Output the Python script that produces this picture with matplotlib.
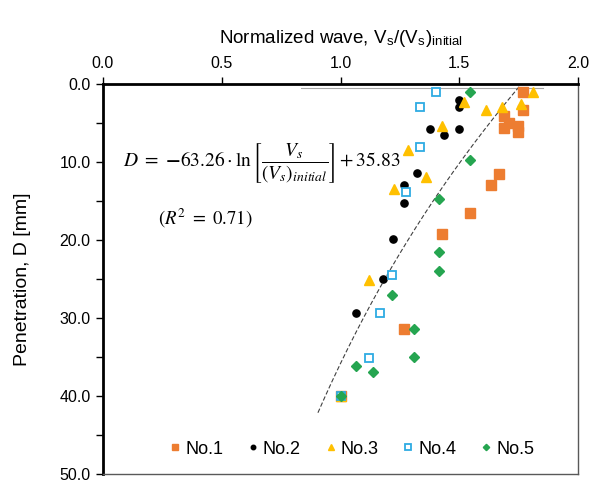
import numpy as np
import matplotlib
matplotlib.use("Agg")
import matplotlib.pyplot as plt

plt.rcParams['font.family'] = ['Liberation Sans', 'DejaVu Sans']
plt.rcParams['mathtext.fontset'] = 'stix'

# ---- data ----
no1_x = [1.768, 1.768, 1.688, 1.709, 1.688, 1.747, 1.747, 1.667, 1.634, 1.545, 1.427, 1.267, 1.0]
no1_y = [1.0, 3.3, 4.1, 5.0, 5.6, 5.4, 6.2, 11.5, 13.0, 16.5, 19.2, 31.4, 40.0]

no2_x = [1.499, 1.499, 1.377, 1.436, 1.499, 1.322, 1.269, 1.269, 1.222, 1.179, 1.065, 1.0]
no2_y = [2.05, 3.0, 5.8, 6.6, 5.8, 11.4, 13.0, 15.2, 19.9, 25.0, 29.4, 40.0]

no3_x = [1.520, 1.611, 1.681, 1.760, 1.809, 1.429, 1.285, 1.359, 1.227, 1.119, 1.0]
no3_y = [2.35, 3.3, 3.0, 2.5, 1.06, 5.35, 8.4, 11.9, 13.5, 25.1, 40.0]

no4_x = [1.401, 1.335, 1.335, 1.275, 1.217, 1.168, 1.121, 1.0]
no4_y = [0.99, 2.99, 8.04, 13.8, 24.5, 29.3, 35.1, 40.0]

no5_x = [1.545, 1.545, 1.416, 1.415, 1.415, 1.216, 1.308, 1.308, 1.065, 1.136, 1.0]
no5_y = [0.99, 9.74, 14.8, 21.5, 24.0, 27.1, 31.4, 35.0, 36.1, 36.9, 40.0]

fit_a = -63.26
fit_b = 35.83
fit_xmin, fit_xmax = 0.905, 1.752

x_ticks = [0.0, 0.5, 1.0, 1.5, 2.0]
y_ticks = [0.0, 10.0, 20.0, 30.0, 40.0, 50.0]

# ---- figure ----
fig = plt.figure(figsize=(6.02, 4.83), dpi=100)
ax = fig.add_axes([103/602, 1-474/483, (578-103)/602, (474-84)/483])

ax.set_xlim(0, 2.0)
ax.set_ylim(50, 0)

# thin grey line at top
ax.plot([0.834, 1.853], [0.45, 0.45], color='#a6a6a6', lw=0.8, zorder=1)

# trendline
xf = np.linspace(fit_xmin, fit_xmax, 200)
ax.plot(xf, fit_a*np.log(xf) + fit_b, ls=(0, (4, 2)), color='#404040', lw=0.8, zorder=2)

ax.plot(no1_x, no1_y, ls='none', marker='s', ms=6.5, mfc='#ED7D31', mec='#ED7D31', label='No.1', zorder=3)
ax.plot(no2_x, no2_y, ls='none', marker='o', ms=5.2, mfc='black', mec='black', label='No.2', zorder=3)
ax.plot(no3_x, no3_y, ls='none', marker='^', ms=7, mfc='#FFC000', mec='#FFC000', label='No.3', zorder=3)
ax.plot(no4_x, no4_y, ls='none', marker='s', ms=6.3, mfc='white', mec='#2EABE3', mew=1.3, label='No.4', zorder=3)
ax.plot(no5_x, no5_y, ls='none', marker='D', ms=5.2, mfc='#25A550', mec='#25A550', label='No.5', zorder=3)

# axes styling
ax.xaxis.tick_top()
ax.xaxis.set_label_position('top')
ax.set_xticks(x_ticks)
ax.set_xticklabels([f'{v:.1f}' for v in x_ticks], fontsize=11.5)
ax.set_yticks(y_ticks)
ax.set_yticklabels([f'{v:.1f}' for v in y_ticks], fontsize=11.5)
ax.set_yticks(np.arange(5, 50, 10), minor=True)
ax.tick_params(axis='x', direction='out', length=5, width=1, pad=4)
ax.tick_params(axis='y', which='both', direction='out', length=5, width=1, pad=4)

for s in ['left', 'top']:
    ax.spines[s].set_linewidth(2.0)
    ax.spines[s].set_color('black')
for s in ['right', 'bottom']:
    ax.spines[s].set_linewidth(1.0)
    ax.spines[s].set_color('#595959')

ax.set_xlabel(r'Normalized wave, V$_\mathregular{s}$/(V$_\mathregular{s}$)$_\mathregular{initial}$',
              fontsize=13.5, labelpad=10)
ax.set_ylabel('Penetration, D [mm]', fontsize=14, labelpad=20)

ax.text(0.085, 10.2,
        r'$D\ =\ \mathbf{-}63.26\cdot\ln\left[\dfrac{V_s}{(V_s)_{initial}}\right] + 35.83$',
        fontsize=14, ha='left', va='center')
ax.text(0.43, 17.2, r'$(R^2\ =\ 0.71)$', fontsize=13.5, ha='center', va='center')

leg = ax.legend(loc='lower center', bbox_to_anchor=(0.525, 0.0), ncol=5, frameon=False,
                fontsize=13, handlelength=0.5, handletextpad=0.3, columnspacing=1.4,
                markerscale=0.62)

fig.savefig('out.png', dpi=100)
